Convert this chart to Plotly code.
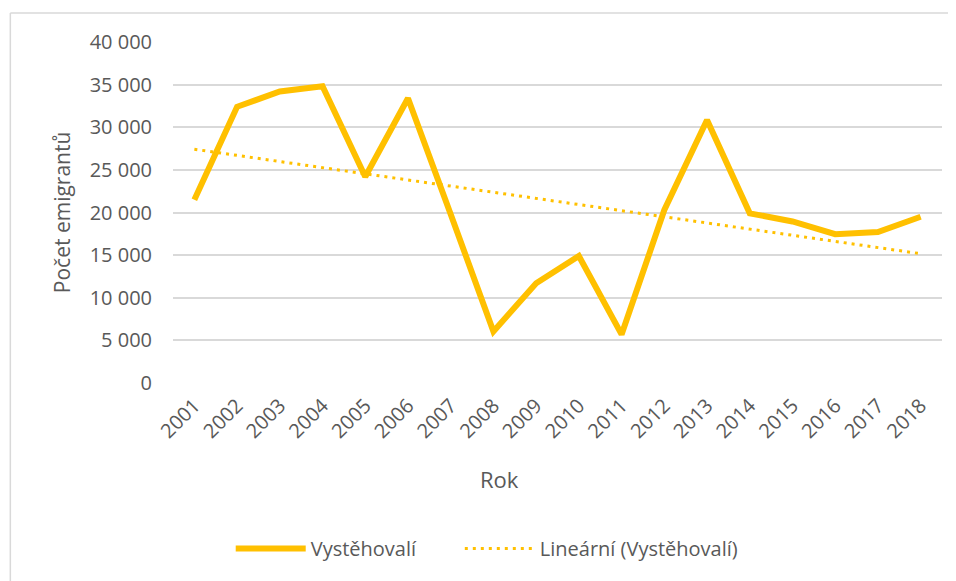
import numpy as np
import plotly.graph_objects as go

years = [str(y) for y in range(2001, 2019)]
emigrants = [21500, 32400, 34200, 34800, 24200, 33400, 19800, 6050, 11700,
             14900, 5700, 20300, 30850, 19900, 18950, 17450, 17700, 19500]
y_ticks = [0, 5000, 10000, 15000, 20000, 25000, 30000, 35000, 40000]
y_tick_labels = ["0", "5 000", "10 000", "15 000", "20 000", "25 000",
                 "30 000", "35 000", "40 000"]

idx = np.arange(len(emigrants))
slope, intercept = np.polyfit(idx, np.array(emigrants, dtype=float), 1)
trend = (slope * idx + intercept).tolist()

GOLD = "#FFC000"
GRAY = "#595959"
FONT = "Open Sans"

fig = go.Figure()
fig.add_trace(go.Scatter(x=years, y=emigrants, mode="lines", name="Vystěhovalí",
                         line=dict(color=GOLD, width=6), legend="legend"))
fig.add_trace(go.Scatter(x=years, y=trend, mode="lines", name="Lineární (Vystěhovalí)",
                         line=dict(color=GOLD, width=3, dash="3px,5px"), legend="legend2"))

OFF = 8  # page body margin
W, H = 956 - OFF, 581 - OFF
L, R_, T, B = 173.3 - OFF, 942.0 - OFF, 41.7 - OFF, 383.3 - OFF
pw, ph = R_ - L, B - T

def px(x):
    return (x - OFF - L) / pw

def py(y):
    return (B - (y - OFF)) / ph

leg_common = dict(orientation="h", xanchor="left", y=py(549), yanchor="middle",
                  font=dict(size=20, color=GRAY), itemwidth=70, bgcolor="rgba(0,0,0,0)")

fig.update_layout(
    width=W, height=H,
    margin=dict(l=L, r=W - R_, t=T, b=H - B, autoexpand=False),
    paper_bgcolor="white", plot_bgcolor="white",
    font=dict(family=FONT, size=20, color=GRAY),
    showlegend=True,
    legend=dict(x=px(231), **leg_common),
    legend2=dict(x=px(460), **leg_common),
    xaxis=dict(type="category", range=[-0.5, len(years) - 0.5], tickangle=-45,
               showgrid=False, zeroline=False,
               showline=False, ticks="", tickfont=dict(size=20, color=GRAY),
               ticklabelstandoff=6, automargin=False),
    yaxis=dict(range=[0, 40000], tickvals=y_ticks, ticktext=y_tick_labels,
               showgrid=True, gridcolor="#D9D9D9", gridwidth=1.5, zeroline=False,
               showline=False, ticks="", tickfont=dict(size=20, color=GRAY),
               ticklabelstandoff=20, automargin=False),
    annotations=[
        dict(text="Počet emigrantů", xref="paper", yref="paper", x=px(62), y=0.5,
             xanchor="center", yanchor="middle", textangle=-90, showarrow=False,
             font=dict(size=21, color=GRAY)),
        dict(text="Rok", xref="paper", yref="paper", x=px(499.5), y=py(479),
             xanchor="center", yanchor="middle", showarrow=False,
             font=dict(size=22, color=GRAY)),
    ],
    shapes=[
        dict(type="line", xref="paper", yref="paper", x0=px(10.7), x1=px(10.7),
             y0=py(600), y1=py(12.7), line=dict(color="#D9D9D9", width=1.5), layer="below"),
        dict(type="line", xref="paper", yref="paper", x0=px(10.7), x1=px(990),
             y0=py(12.7), y1=py(12.7), line=dict(color="#D9D9D9", width=1.5), layer="below"),
    ],
)

fig.write_html("out.html")
